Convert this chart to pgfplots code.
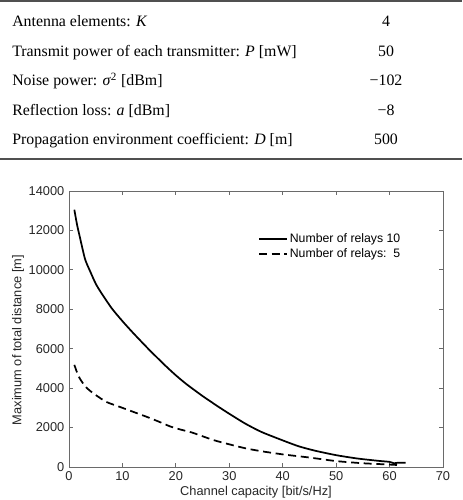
\documentclass[border=0pt]{standalone}
\usepackage{fontspec}
\setmainfont{Liberation Sans}
\newfontfamily\tablefont{Liberation Serif}
\usepackage{pgfplots}
\pgfplotsset{compat=1.18}
\definecolor{framegray}{HTML}{6A6A6A}
\definecolor{rulegray}{HTML}{505050}
\begin{document}
\begin{tikzpicture}
% ---- table ----
\draw[rulegray, line width=1.2pt] (0,374.3pt) -- (346.5pt,374.3pt);
\draw[rulegray, line width=1pt] (0,255.8pt) -- (346.5pt,255.8pt);
\begin{scope}[every node/.style={inner sep=0pt, font=\tablefont\fontsize{11.9}{14}\selectfont}]
\node[anchor=base west] at (9pt,354.75pt) {Antenna elements: \textit{K}};
\node[anchor=base west] at (9pt,332.6pt) {Transmit power of each transmitter: \textit{P} [mW]};
\node[anchor=base west] at (9pt,310.5pt) {Noise power: \textit{σ}\textsuperscript{2} [dBm]};
\node[anchor=base west] at (9pt,288.4pt) {Reflection loss: \textit{a} [dBm]};
\node[anchor=base west] at (9pt,266.25pt) {Propagation environment coefficient: \textit{D} [m]};
\node[anchor=base] at (289.5pt,354.75pt) {4};
\node[anchor=base] at (289.5pt,332.6pt) {50};
\node[anchor=base] at (289.5pt,310.5pt) {−102};
\node[anchor=base] at (289.5pt,288.4pt) {−8};
\node[anchor=base] at (289.5pt,266.25pt) {500};
\end{scope}
% ---- chart ----
\begin{axis}[
  at={(51.75pt,24.75pt)}, anchor=south west,
  scale only axis, width=280.5pt, height=207pt,
  xmin=0, xmax=70, ymin=0, ymax=14000,
  xtick={0,10,...,70}, ytick={0,2000,...,14000},
  scaled y ticks=false,
  /pgf/number format/.cd, 1000 sep={}, assume math mode=true, /pgfplots/.cd,
  tick align=inside, major tick length=3pt,
  axis line style={framegray, line width=0.7pt},
  tick style={framegray, line width=0.6pt},
  ticklabel style={font=\fontsize{9.6}{11}\selectfont, text=black!85},
  label style={font=\fontsize{9.6}{11}\selectfont, text=black!85},
  xlabel={Channel capacity [bit/s/Hz]},
  ylabel={Maximum of total distance [m]},
  xlabel style={at={(axis description cs:0.5,-0.09)}, anchor=center},
  ylabel style={at={(axis description cs:-0.136,0.46)}, anchor=center, rotate=0},
  legend style={at={(axis description cs:0.505,0.855)}, anchor=north west,
    draw=none, fill=none, font=\fontsize{9.2}{11}\selectfont, inner sep=0pt,
    row sep=0.5pt, nodes={inner sep=1.5pt}},
  legend cell align=left,
  legend image code/.code={\draw[#1] (0pt,0pt) -- (21pt,0pt);},
]
\addplot[black, line width=1.3pt, smooth, tension=0.4] coordinates {
(1,13050) (1.5,12300) (2,11700) (3,10550) (4,9900) (5,9300) (6,8850) (8,8050)
(10,7400) (12,6800) (15,5950) (18,5150) (20,4650) (22,4200) (25,3600) (28,3050)
(30,2700) (33,2200) (36,1780) (40,1350) (43,1050) (46,830) (50,600) (54,430)
(58,310) (60,260) (60.8,190) (61.5,215) (63,220)
};
\addlegendentry{Number of relays 10}
\addplot[black, line width=1.3pt, dash pattern=on 6pt off 3.5pt, smooth, tension=0.4] coordinates {
(1,5180) (1.5,4800) (2,4500) (3,4100) (4,3850) (5,3650) (7,3300) (9.5,3050)
(12,2800) (14.5,2550) (17,2280) (19,2050) (21,1890) (23,1750) (27,1370) (30,1150)
(33,950) (36,800) (40,640) (45,480) (50,300) (55,190) (59.5,130) (61.5,100)
};
\addlegendentry{Number of relays:\ \ 5}
\end{axis}
\pgfresetboundingbox
\useasboundingbox (0,0) rectangle (346.5pt,375pt);
\end{tikzpicture}
\end{document}
